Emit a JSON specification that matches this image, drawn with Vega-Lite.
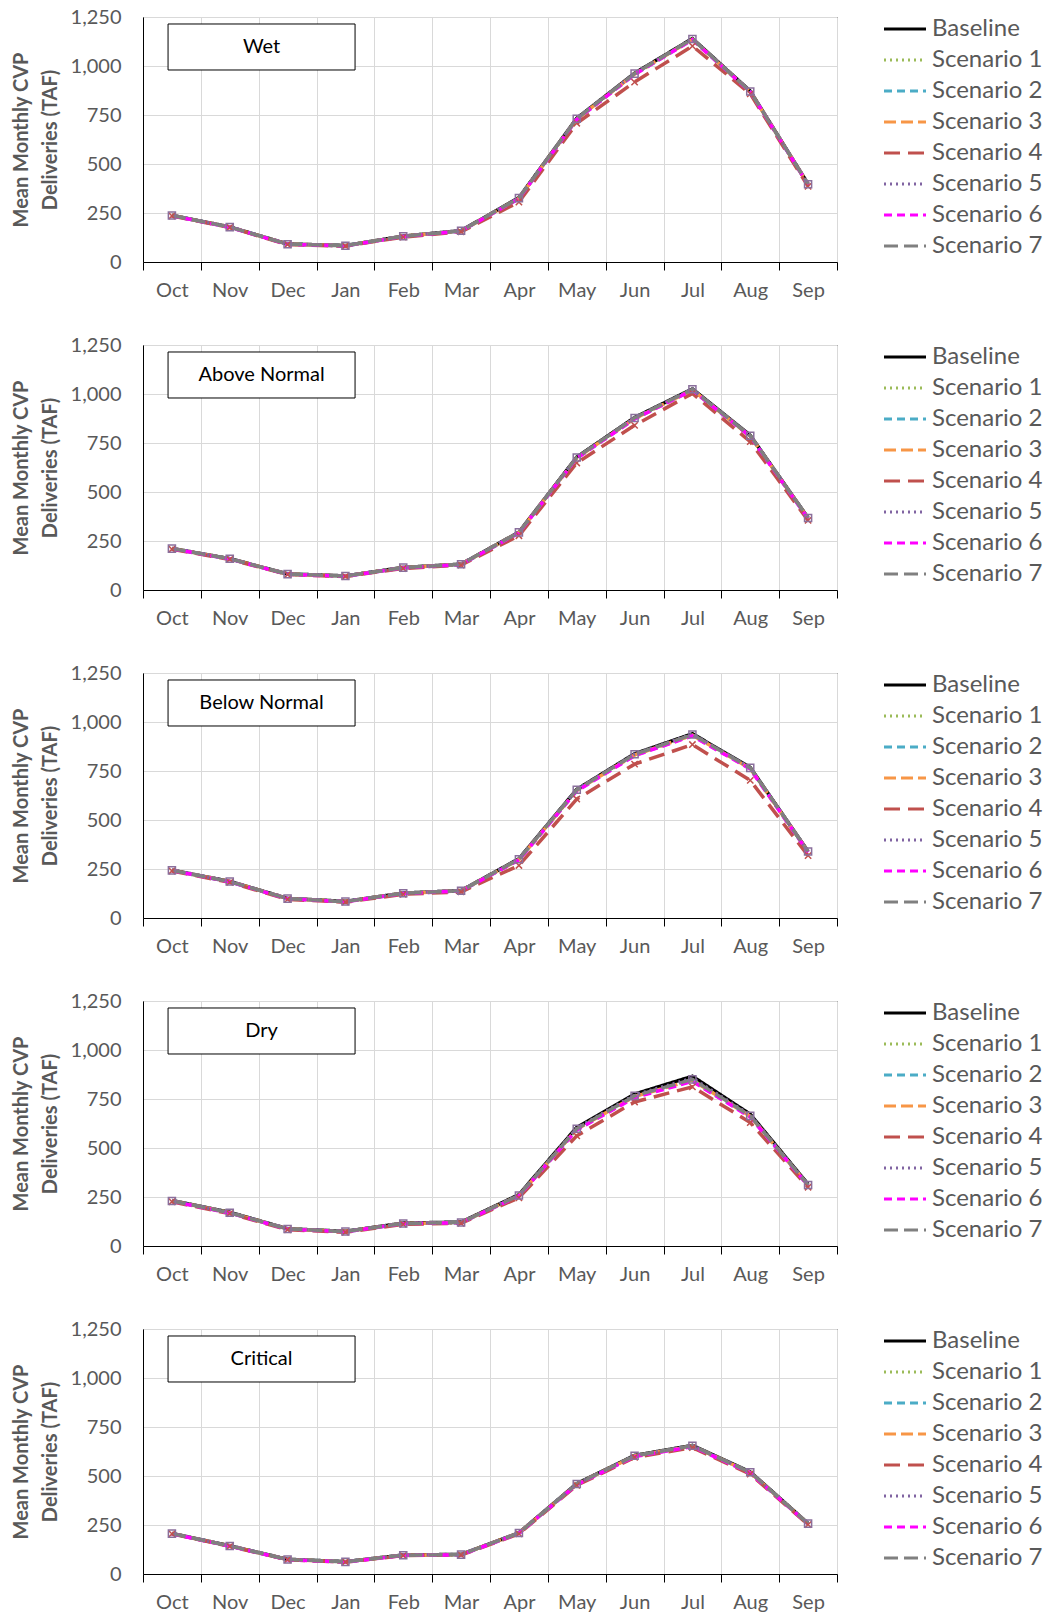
{
"$schema": "https://vega.github.io/schema/vega-lite/v6.json",
"background": "white",
"padding": {"left": 10, "top": 6, "right": 200, "bottom": 5},
"bounds": "flush",
"spacing": 83,
"config": {
  "font": "Lato",
  "view": {"stroke": "#000000", "strokeWidth": 1},
  "axis": {"labelFont": "Lato", "labelFontSize": 20, "labelColor": "#595959", "gridColor": "#d9d9d9", "gridWidth": 1, "domainColor": "#000000", "domainWidth": 1, "tickColor": "#000000"},
  "legend": {"title": null, "orient": "right", "offset": 56, "padding": 0, "symbolType": "M-2,0H2", "symbolSize": 441, "symbolStrokeWidth": 3, "labelFontSize": 24, "labelFont": "Lato", "labelColor": "#595959", "labelOffset": 15, "rowPadding": 7, "symbolOpacity": 1}
},
"datasets": {"d": [
{"p":"Wet","s":"Baseline","m":"Oct","v":238},{"p":"Wet","s":"Baseline","m":"Nov","v":179},{"p":"Wet","s":"Baseline","m":"Dec","v":92},{"p":"Wet","s":"Baseline","m":"Jan","v":84},{"p":"Wet","s":"Baseline","m":"Feb","v":132},{"p":"Wet","s":"Baseline","m":"Mar","v":160},{"p":"Wet","s":"Baseline","m":"Apr","v":328},{"p":"Wet","s":"Baseline","m":"May","v":733},{"p":"Wet","s":"Baseline","m":"Jun","v":963},{"p":"Wet","s":"Baseline","m":"Jul","v":1140},{"p":"Wet","s":"Baseline","m":"Aug","v":872},{"p":"Wet","s":"Baseline","m":"Sep","v":398},
{"p":"Wet","s":"Scenario 1","m":"Oct","v":237},{"p":"Wet","s":"Scenario 1","m":"Nov","v":178},{"p":"Wet","s":"Scenario 1","m":"Dec","v":91},{"p":"Wet","s":"Scenario 1","m":"Jan","v":83},{"p":"Wet","s":"Scenario 1","m":"Feb","v":131},{"p":"Wet","s":"Scenario 1","m":"Mar","v":159},{"p":"Wet","s":"Scenario 1","m":"Apr","v":326},{"p":"Wet","s":"Scenario 1","m":"May","v":730},{"p":"Wet","s":"Scenario 1","m":"Jun","v":960},{"p":"Wet","s":"Scenario 1","m":"Jul","v":1137},{"p":"Wet","s":"Scenario 1","m":"Aug","v":870},{"p":"Wet","s":"Scenario 1","m":"Sep","v":396},
{"p":"Wet","s":"Scenario 2","m":"Oct","v":236},{"p":"Wet","s":"Scenario 2","m":"Nov","v":178},{"p":"Wet","s":"Scenario 2","m":"Dec","v":91},{"p":"Wet","s":"Scenario 2","m":"Jan","v":83},{"p":"Wet","s":"Scenario 2","m":"Feb","v":130},{"p":"Wet","s":"Scenario 2","m":"Mar","v":158},{"p":"Wet","s":"Scenario 2","m":"Apr","v":324},{"p":"Wet","s":"Scenario 2","m":"May","v":728},{"p":"Wet","s":"Scenario 2","m":"Jun","v":958},{"p":"Wet","s":"Scenario 2","m":"Jul","v":1135},{"p":"Wet","s":"Scenario 2","m":"Aug","v":869},{"p":"Wet","s":"Scenario 2","m":"Sep","v":395},
{"p":"Wet","s":"Scenario 3","m":"Oct","v":237},{"p":"Wet","s":"Scenario 3","m":"Nov","v":178},{"p":"Wet","s":"Scenario 3","m":"Dec","v":91},{"p":"Wet","s":"Scenario 3","m":"Jan","v":83},{"p":"Wet","s":"Scenario 3","m":"Feb","v":131},{"p":"Wet","s":"Scenario 3","m":"Mar","v":158},{"p":"Wet","s":"Scenario 3","m":"Apr","v":325},{"p":"Wet","s":"Scenario 3","m":"May","v":729},{"p":"Wet","s":"Scenario 3","m":"Jun","v":959},{"p":"Wet","s":"Scenario 3","m":"Jul","v":1136},{"p":"Wet","s":"Scenario 3","m":"Aug","v":869},{"p":"Wet","s":"Scenario 3","m":"Sep","v":396},
{"p":"Wet","s":"Scenario 4","m":"Oct","v":235},{"p":"Wet","s":"Scenario 4","m":"Nov","v":176},{"p":"Wet","s":"Scenario 4","m":"Dec","v":89},{"p":"Wet","s":"Scenario 4","m":"Jan","v":81},{"p":"Wet","s":"Scenario 4","m":"Feb","v":127},{"p":"Wet","s":"Scenario 4","m":"Mar","v":154},{"p":"Wet","s":"Scenario 4","m":"Apr","v":306},{"p":"Wet","s":"Scenario 4","m":"May","v":708},{"p":"Wet","s":"Scenario 4","m":"Jun","v":918},{"p":"Wet","s":"Scenario 4","m":"Jul","v":1102},{"p":"Wet","s":"Scenario 4","m":"Aug","v":858},{"p":"Wet","s":"Scenario 4","m":"Sep","v":386},
{"p":"Wet","s":"Scenario 5","m":"Oct","v":238},{"p":"Wet","s":"Scenario 5","m":"Nov","v":179},{"p":"Wet","s":"Scenario 5","m":"Dec","v":92},{"p":"Wet","s":"Scenario 5","m":"Jan","v":84},{"p":"Wet","s":"Scenario 5","m":"Feb","v":132},{"p":"Wet","s":"Scenario 5","m":"Mar","v":160},{"p":"Wet","s":"Scenario 5","m":"Apr","v":327},{"p":"Wet","s":"Scenario 5","m":"May","v":732},{"p":"Wet","s":"Scenario 5","m":"Jun","v":962},{"p":"Wet","s":"Scenario 5","m":"Jul","v":1139},{"p":"Wet","s":"Scenario 5","m":"Aug","v":871},{"p":"Wet","s":"Scenario 5","m":"Sep","v":397},
{"p":"Wet","s":"Scenario 6","m":"Oct","v":236},{"p":"Wet","s":"Scenario 6","m":"Nov","v":177},{"p":"Wet","s":"Scenario 6","m":"Dec","v":90},{"p":"Wet","s":"Scenario 6","m":"Jan","v":82},{"p":"Wet","s":"Scenario 6","m":"Feb","v":130},{"p":"Wet","s":"Scenario 6","m":"Mar","v":158},{"p":"Wet","s":"Scenario 6","m":"Apr","v":323},{"p":"Wet","s":"Scenario 6","m":"May","v":727},{"p":"Wet","s":"Scenario 6","m":"Jun","v":957},{"p":"Wet","s":"Scenario 6","m":"Jul","v":1134},{"p":"Wet","s":"Scenario 6","m":"Aug","v":868},{"p":"Wet","s":"Scenario 6","m":"Sep","v":395},
{"p":"Wet","s":"Scenario 7","m":"Oct","v":237},{"p":"Wet","s":"Scenario 7","m":"Nov","v":178},{"p":"Wet","s":"Scenario 7","m":"Dec","v":91},{"p":"Wet","s":"Scenario 7","m":"Jan","v":83},{"p":"Wet","s":"Scenario 7","m":"Feb","v":131},{"p":"Wet","s":"Scenario 7","m":"Mar","v":159},{"p":"Wet","s":"Scenario 7","m":"Apr","v":326},{"p":"Wet","s":"Scenario 7","m":"May","v":731},{"p":"Wet","s":"Scenario 7","m":"Jun","v":961},{"p":"Wet","s":"Scenario 7","m":"Jul","v":1138},{"p":"Wet","s":"Scenario 7","m":"Aug","v":870},{"p":"Wet","s":"Scenario 7","m":"Sep","v":397},

{"p":"Above Normal","s":"Baseline","m":"Oct","v":212},{"p":"Above Normal","s":"Baseline","m":"Nov","v":160},{"p":"Above Normal","s":"Baseline","m":"Dec","v":82},{"p":"Above Normal","s":"Baseline","m":"Jan","v":72},{"p":"Above Normal","s":"Baseline","m":"Feb","v":115},{"p":"Above Normal","s":"Baseline","m":"Mar","v":132},{"p":"Above Normal","s":"Baseline","m":"Apr","v":295},{"p":"Above Normal","s":"Baseline","m":"May","v":678},{"p":"Above Normal","s":"Baseline","m":"Jun","v":880},{"p":"Above Normal","s":"Baseline","m":"Jul","v":1026},{"p":"Above Normal","s":"Baseline","m":"Aug","v":789},{"p":"Above Normal","s":"Baseline","m":"Sep","v":368},
{"p":"Above Normal","s":"Scenario 1","m":"Oct","v":211},{"p":"Above Normal","s":"Scenario 1","m":"Nov","v":159},{"p":"Above Normal","s":"Scenario 1","m":"Dec","v":81},{"p":"Above Normal","s":"Scenario 1","m":"Jan","v":71},{"p":"Above Normal","s":"Scenario 1","m":"Feb","v":114},{"p":"Above Normal","s":"Scenario 1","m":"Mar","v":131},{"p":"Above Normal","s":"Scenario 1","m":"Apr","v":293},{"p":"Above Normal","s":"Scenario 1","m":"May","v":675},{"p":"Above Normal","s":"Scenario 1","m":"Jun","v":876},{"p":"Above Normal","s":"Scenario 1","m":"Jul","v":1022},{"p":"Above Normal","s":"Scenario 1","m":"Aug","v":786},{"p":"Above Normal","s":"Scenario 1","m":"Sep","v":366},
{"p":"Above Normal","s":"Scenario 2","m":"Oct","v":210},{"p":"Above Normal","s":"Scenario 2","m":"Nov","v":158},{"p":"Above Normal","s":"Scenario 2","m":"Dec","v":81},{"p":"Above Normal","s":"Scenario 2","m":"Jan","v":71},{"p":"Above Normal","s":"Scenario 2","m":"Feb","v":113},{"p":"Above Normal","s":"Scenario 2","m":"Mar","v":130},{"p":"Above Normal","s":"Scenario 2","m":"Apr","v":292},{"p":"Above Normal","s":"Scenario 2","m":"May","v":673},{"p":"Above Normal","s":"Scenario 2","m":"Jun","v":874},{"p":"Above Normal","s":"Scenario 2","m":"Jul","v":1020},{"p":"Above Normal","s":"Scenario 2","m":"Aug","v":784},{"p":"Above Normal","s":"Scenario 2","m":"Sep","v":365},
{"p":"Above Normal","s":"Scenario 3","m":"Oct","v":211},{"p":"Above Normal","s":"Scenario 3","m":"Nov","v":159},{"p":"Above Normal","s":"Scenario 3","m":"Dec","v":81},{"p":"Above Normal","s":"Scenario 3","m":"Jan","v":71},{"p":"Above Normal","s":"Scenario 3","m":"Feb","v":114},{"p":"Above Normal","s":"Scenario 3","m":"Mar","v":131},{"p":"Above Normal","s":"Scenario 3","m":"Apr","v":293},{"p":"Above Normal","s":"Scenario 3","m":"May","v":674},{"p":"Above Normal","s":"Scenario 3","m":"Jun","v":875},{"p":"Above Normal","s":"Scenario 3","m":"Jul","v":1021},{"p":"Above Normal","s":"Scenario 3","m":"Aug","v":785},{"p":"Above Normal","s":"Scenario 3","m":"Sep","v":366},
{"p":"Above Normal","s":"Scenario 4","m":"Oct","v":208},{"p":"Above Normal","s":"Scenario 4","m":"Nov","v":156},{"p":"Above Normal","s":"Scenario 4","m":"Dec","v":79},{"p":"Above Normal","s":"Scenario 4","m":"Jan","v":69},{"p":"Above Normal","s":"Scenario 4","m":"Feb","v":110},{"p":"Above Normal","s":"Scenario 4","m":"Mar","v":127},{"p":"Above Normal","s":"Scenario 4","m":"Apr","v":277},{"p":"Above Normal","s":"Scenario 4","m":"May","v":648},{"p":"Above Normal","s":"Scenario 4","m":"Jun","v":840},{"p":"Above Normal","s":"Scenario 4","m":"Jul","v":1003},{"p":"Above Normal","s":"Scenario 4","m":"Aug","v":757},{"p":"Above Normal","s":"Scenario 4","m":"Sep","v":355},
{"p":"Above Normal","s":"Scenario 5","m":"Oct","v":212},{"p":"Above Normal","s":"Scenario 5","m":"Nov","v":160},{"p":"Above Normal","s":"Scenario 5","m":"Dec","v":82},{"p":"Above Normal","s":"Scenario 5","m":"Jan","v":72},{"p":"Above Normal","s":"Scenario 5","m":"Feb","v":115},{"p":"Above Normal","s":"Scenario 5","m":"Mar","v":132},{"p":"Above Normal","s":"Scenario 5","m":"Apr","v":294},{"p":"Above Normal","s":"Scenario 5","m":"May","v":677},{"p":"Above Normal","s":"Scenario 5","m":"Jun","v":879},{"p":"Above Normal","s":"Scenario 5","m":"Jul","v":1025},{"p":"Above Normal","s":"Scenario 5","m":"Aug","v":788},{"p":"Above Normal","s":"Scenario 5","m":"Sep","v":367},
{"p":"Above Normal","s":"Scenario 6","m":"Oct","v":210},{"p":"Above Normal","s":"Scenario 6","m":"Nov","v":158},{"p":"Above Normal","s":"Scenario 6","m":"Dec","v":80},{"p":"Above Normal","s":"Scenario 6","m":"Jan","v":70},{"p":"Above Normal","s":"Scenario 6","m":"Feb","v":113},{"p":"Above Normal","s":"Scenario 6","m":"Mar","v":130},{"p":"Above Normal","s":"Scenario 6","m":"Apr","v":291},{"p":"Above Normal","s":"Scenario 6","m":"May","v":672},{"p":"Above Normal","s":"Scenario 6","m":"Jun","v":873},{"p":"Above Normal","s":"Scenario 6","m":"Jul","v":1019},{"p":"Above Normal","s":"Scenario 6","m":"Aug","v":783},{"p":"Above Normal","s":"Scenario 6","m":"Sep","v":364},
{"p":"Above Normal","s":"Scenario 7","m":"Oct","v":211},{"p":"Above Normal","s":"Scenario 7","m":"Nov","v":159},{"p":"Above Normal","s":"Scenario 7","m":"Dec","v":81},{"p":"Above Normal","s":"Scenario 7","m":"Jan","v":71},{"p":"Above Normal","s":"Scenario 7","m":"Feb","v":114},{"p":"Above Normal","s":"Scenario 7","m":"Mar","v":131},{"p":"Above Normal","s":"Scenario 7","m":"Apr","v":294},{"p":"Above Normal","s":"Scenario 7","m":"May","v":676},{"p":"Above Normal","s":"Scenario 7","m":"Jun","v":878},{"p":"Above Normal","s":"Scenario 7","m":"Jul","v":1024},{"p":"Above Normal","s":"Scenario 7","m":"Aug","v":787},{"p":"Above Normal","s":"Scenario 7","m":"Sep","v":367},

{"p":"Below Normal","s":"Baseline","m":"Oct","v":244},{"p":"Below Normal","s":"Baseline","m":"Nov","v":187},{"p":"Below Normal","s":"Baseline","m":"Dec","v":100},{"p":"Below Normal","s":"Baseline","m":"Jan","v":85},{"p":"Below Normal","s":"Baseline","m":"Feb","v":127},{"p":"Below Normal","s":"Baseline","m":"Mar","v":140},{"p":"Below Normal","s":"Baseline","m":"Apr","v":302},{"p":"Below Normal","s":"Baseline","m":"May","v":656},{"p":"Below Normal","s":"Baseline","m":"Jun","v":838},{"p":"Below Normal","s":"Baseline","m":"Jul","v":940},{"p":"Below Normal","s":"Baseline","m":"Aug","v":768},{"p":"Below Normal","s":"Baseline","m":"Sep","v":340},
{"p":"Below Normal","s":"Scenario 1","m":"Oct","v":243},{"p":"Below Normal","s":"Scenario 1","m":"Nov","v":186},{"p":"Below Normal","s":"Scenario 1","m":"Dec","v":99},{"p":"Below Normal","s":"Scenario 1","m":"Jan","v":84},{"p":"Below Normal","s":"Scenario 1","m":"Feb","v":126},{"p":"Below Normal","s":"Scenario 1","m":"Mar","v":139},{"p":"Below Normal","s":"Scenario 1","m":"Apr","v":299},{"p":"Below Normal","s":"Scenario 1","m":"May","v":652},{"p":"Below Normal","s":"Scenario 1","m":"Jun","v":833},{"p":"Below Normal","s":"Scenario 1","m":"Jul","v":934},{"p":"Below Normal","s":"Scenario 1","m":"Aug","v":764},{"p":"Below Normal","s":"Scenario 1","m":"Sep","v":338},
{"p":"Below Normal","s":"Scenario 2","m":"Oct","v":242},{"p":"Below Normal","s":"Scenario 2","m":"Nov","v":185},{"p":"Below Normal","s":"Scenario 2","m":"Dec","v":98},{"p":"Below Normal","s":"Scenario 2","m":"Jan","v":84},{"p":"Below Normal","s":"Scenario 2","m":"Feb","v":125},{"p":"Below Normal","s":"Scenario 2","m":"Mar","v":138},{"p":"Below Normal","s":"Scenario 2","m":"Apr","v":297},{"p":"Below Normal","s":"Scenario 2","m":"May","v":650},{"p":"Below Normal","s":"Scenario 2","m":"Jun","v":830},{"p":"Below Normal","s":"Scenario 2","m":"Jul","v":931},{"p":"Below Normal","s":"Scenario 2","m":"Aug","v":762},{"p":"Below Normal","s":"Scenario 2","m":"Sep","v":337},
{"p":"Below Normal","s":"Scenario 3","m":"Oct","v":243},{"p":"Below Normal","s":"Scenario 3","m":"Nov","v":186},{"p":"Below Normal","s":"Scenario 3","m":"Dec","v":99},{"p":"Below Normal","s":"Scenario 3","m":"Jan","v":84},{"p":"Below Normal","s":"Scenario 3","m":"Feb","v":126},{"p":"Below Normal","s":"Scenario 3","m":"Mar","v":139},{"p":"Below Normal","s":"Scenario 3","m":"Apr","v":298},{"p":"Below Normal","s":"Scenario 3","m":"May","v":651},{"p":"Below Normal","s":"Scenario 3","m":"Jun","v":832},{"p":"Below Normal","s":"Scenario 3","m":"Jul","v":933},{"p":"Below Normal","s":"Scenario 3","m":"Aug","v":763},{"p":"Below Normal","s":"Scenario 3","m":"Sep","v":338},
{"p":"Below Normal","s":"Scenario 4","m":"Oct","v":240},{"p":"Below Normal","s":"Scenario 4","m":"Nov","v":182},{"p":"Below Normal","s":"Scenario 4","m":"Dec","v":95},{"p":"Below Normal","s":"Scenario 4","m":"Jan","v":81},{"p":"Below Normal","s":"Scenario 4","m":"Feb","v":121},{"p":"Below Normal","s":"Scenario 4","m":"Mar","v":133},{"p":"Below Normal","s":"Scenario 4","m":"Apr","v":268},{"p":"Below Normal","s":"Scenario 4","m":"May","v":607},{"p":"Below Normal","s":"Scenario 4","m":"Jun","v":785},{"p":"Below Normal","s":"Scenario 4","m":"Jul","v":885},{"p":"Below Normal","s":"Scenario 4","m":"Aug","v":702},{"p":"Below Normal","s":"Scenario 4","m":"Sep","v":318},
{"p":"Below Normal","s":"Scenario 5","m":"Oct","v":244},{"p":"Below Normal","s":"Scenario 5","m":"Nov","v":187},{"p":"Below Normal","s":"Scenario 5","m":"Dec","v":100},{"p":"Below Normal","s":"Scenario 5","m":"Jan","v":85},{"p":"Below Normal","s":"Scenario 5","m":"Feb","v":127},{"p":"Below Normal","s":"Scenario 5","m":"Mar","v":140},{"p":"Below Normal","s":"Scenario 5","m":"Apr","v":301},{"p":"Below Normal","s":"Scenario 5","m":"May","v":655},{"p":"Below Normal","s":"Scenario 5","m":"Jun","v":837},{"p":"Below Normal","s":"Scenario 5","m":"Jul","v":938},{"p":"Below Normal","s":"Scenario 5","m":"Aug","v":767},{"p":"Below Normal","s":"Scenario 5","m":"Sep","v":339},
{"p":"Below Normal","s":"Scenario 6","m":"Oct","v":242},{"p":"Below Normal","s":"Scenario 6","m":"Nov","v":185},{"p":"Below Normal","s":"Scenario 6","m":"Dec","v":98},{"p":"Below Normal","s":"Scenario 6","m":"Jan","v":83},{"p":"Below Normal","s":"Scenario 6","m":"Feb","v":125},{"p":"Below Normal","s":"Scenario 6","m":"Mar","v":138},{"p":"Below Normal","s":"Scenario 6","m":"Apr","v":296},{"p":"Below Normal","s":"Scenario 6","m":"May","v":648},{"p":"Below Normal","s":"Scenario 6","m":"Jun","v":828},{"p":"Below Normal","s":"Scenario 6","m":"Jul","v":929},{"p":"Below Normal","s":"Scenario 6","m":"Aug","v":760},{"p":"Below Normal","s":"Scenario 6","m":"Sep","v":336},
{"p":"Below Normal","s":"Scenario 7","m":"Oct","v":243},{"p":"Below Normal","s":"Scenario 7","m":"Nov","v":186},{"p":"Below Normal","s":"Scenario 7","m":"Dec","v":99},{"p":"Below Normal","s":"Scenario 7","m":"Jan","v":84},{"p":"Below Normal","s":"Scenario 7","m":"Feb","v":126},{"p":"Below Normal","s":"Scenario 7","m":"Mar","v":139},{"p":"Below Normal","s":"Scenario 7","m":"Apr","v":300},{"p":"Below Normal","s":"Scenario 7","m":"May","v":654},{"p":"Below Normal","s":"Scenario 7","m":"Jun","v":835},{"p":"Below Normal","s":"Scenario 7","m":"Jul","v":936},{"p":"Below Normal","s":"Scenario 7","m":"Aug","v":766},{"p":"Below Normal","s":"Scenario 7","m":"Sep","v":339},

{"p":"Dry","s":"Baseline","m":"Oct","v":232},{"p":"Dry","s":"Baseline","m":"Nov","v":172},{"p":"Dry","s":"Baseline","m":"Dec","v":88},{"p":"Dry","s":"Baseline","m":"Jan","v":75},{"p":"Dry","s":"Baseline","m":"Feb","v":117},{"p":"Dry","s":"Baseline","m":"Mar","v":122},{"p":"Dry","s":"Baseline","m":"Apr","v":262},{"p":"Dry","s":"Baseline","m":"May","v":605},{"p":"Dry","s":"Baseline","m":"Jun","v":775},{"p":"Dry","s":"Baseline","m":"Jul","v":866},{"p":"Dry","s":"Baseline","m":"Aug","v":672},{"p":"Dry","s":"Baseline","m":"Sep","v":315},
{"p":"Dry","s":"Scenario 1","m":"Oct","v":230},{"p":"Dry","s":"Scenario 1","m":"Nov","v":170},{"p":"Dry","s":"Scenario 1","m":"Dec","v":87},{"p":"Dry","s":"Scenario 1","m":"Jan","v":74},{"p":"Dry","s":"Scenario 1","m":"Feb","v":115},{"p":"Dry","s":"Scenario 1","m":"Mar","v":120},{"p":"Dry","s":"Scenario 1","m":"Apr","v":258},{"p":"Dry","s":"Scenario 1","m":"May","v":597},{"p":"Dry","s":"Scenario 1","m":"Jun","v":765},{"p":"Dry","s":"Scenario 1","m":"Jul","v":848},{"p":"Dry","s":"Scenario 1","m":"Aug","v":663},{"p":"Dry","s":"Scenario 1","m":"Sep","v":311},
{"p":"Dry","s":"Scenario 2","m":"Oct","v":229},{"p":"Dry","s":"Scenario 2","m":"Nov","v":169},{"p":"Dry","s":"Scenario 2","m":"Dec","v":86},{"p":"Dry","s":"Scenario 2","m":"Jan","v":73},{"p":"Dry","s":"Scenario 2","m":"Feb","v":114},{"p":"Dry","s":"Scenario 2","m":"Mar","v":119},{"p":"Dry","s":"Scenario 2","m":"Apr","v":256},{"p":"Dry","s":"Scenario 2","m":"May","v":594},{"p":"Dry","s":"Scenario 2","m":"Jun","v":760},{"p":"Dry","s":"Scenario 2","m":"Jul","v":843},{"p":"Dry","s":"Scenario 2","m":"Aug","v":660},{"p":"Dry","s":"Scenario 2","m":"Sep","v":309},
{"p":"Dry","s":"Scenario 3","m":"Oct","v":230},{"p":"Dry","s":"Scenario 3","m":"Nov","v":170},{"p":"Dry","s":"Scenario 3","m":"Dec","v":87},{"p":"Dry","s":"Scenario 3","m":"Jan","v":74},{"p":"Dry","s":"Scenario 3","m":"Feb","v":115},{"p":"Dry","s":"Scenario 3","m":"Mar","v":120},{"p":"Dry","s":"Scenario 3","m":"Apr","v":257},{"p":"Dry","s":"Scenario 3","m":"May","v":596},{"p":"Dry","s":"Scenario 3","m":"Jun","v":763},{"p":"Dry","s":"Scenario 3","m":"Jul","v":846},{"p":"Dry","s":"Scenario 3","m":"Aug","v":662},{"p":"Dry","s":"Scenario 3","m":"Sep","v":310},
{"p":"Dry","s":"Scenario 4","m":"Oct","v":226},{"p":"Dry","s":"Scenario 4","m":"Nov","v":165},{"p":"Dry","s":"Scenario 4","m":"Dec","v":83},{"p":"Dry","s":"Scenario 4","m":"Jan","v":70},{"p":"Dry","s":"Scenario 4","m":"Feb","v":111},{"p":"Dry","s":"Scenario 4","m":"Mar","v":116},{"p":"Dry","s":"Scenario 4","m":"Apr","v":246},{"p":"Dry","s":"Scenario 4","m":"May","v":562},{"p":"Dry","s":"Scenario 4","m":"Jun","v":735},{"p":"Dry","s":"Scenario 4","m":"Jul","v":812},{"p":"Dry","s":"Scenario 4","m":"Aug","v":630},{"p":"Dry","s":"Scenario 4","m":"Sep","v":300},
{"p":"Dry","s":"Scenario 5","m":"Oct","v":231},{"p":"Dry","s":"Scenario 5","m":"Nov","v":171},{"p":"Dry","s":"Scenario 5","m":"Dec","v":88},{"p":"Dry","s":"Scenario 5","m":"Jan","v":75},{"p":"Dry","s":"Scenario 5","m":"Feb","v":116},{"p":"Dry","s":"Scenario 5","m":"Mar","v":121},{"p":"Dry","s":"Scenario 5","m":"Apr","v":260},{"p":"Dry","s":"Scenario 5","m":"May","v":601},{"p":"Dry","s":"Scenario 5","m":"Jun","v":770},{"p":"Dry","s":"Scenario 5","m":"Jul","v":856},{"p":"Dry","s":"Scenario 5","m":"Aug","v":668},{"p":"Dry","s":"Scenario 5","m":"Sep","v":313},
{"p":"Dry","s":"Scenario 6","m":"Oct","v":228},{"p":"Dry","s":"Scenario 6","m":"Nov","v":168},{"p":"Dry","s":"Scenario 6","m":"Dec","v":86},{"p":"Dry","s":"Scenario 6","m":"Jan","v":73},{"p":"Dry","s":"Scenario 6","m":"Feb","v":114},{"p":"Dry","s":"Scenario 6","m":"Mar","v":119},{"p":"Dry","s":"Scenario 6","m":"Apr","v":255},{"p":"Dry","s":"Scenario 6","m":"May","v":592},{"p":"Dry","s":"Scenario 6","m":"Jun","v":757},{"p":"Dry","s":"Scenario 6","m":"Jul","v":840},{"p":"Dry","s":"Scenario 6","m":"Aug","v":658},{"p":"Dry","s":"Scenario 6","m":"Sep","v":308},
{"p":"Dry","s":"Scenario 7","m":"Oct","v":230},{"p":"Dry","s":"Scenario 7","m":"Nov","v":170},{"p":"Dry","s":"Scenario 7","m":"Dec","v":87},{"p":"Dry","s":"Scenario 7","m":"Jan","v":74},{"p":"Dry","s":"Scenario 7","m":"Feb","v":115},{"p":"Dry","s":"Scenario 7","m":"Mar","v":120},{"p":"Dry","s":"Scenario 7","m":"Apr","v":258},{"p":"Dry","s":"Scenario 7","m":"May","v":598},{"p":"Dry","s":"Scenario 7","m":"Jun","v":766},{"p":"Dry","s":"Scenario 7","m":"Jul","v":850},{"p":"Dry","s":"Scenario 7","m":"Aug","v":664},{"p":"Dry","s":"Scenario 7","m":"Sep","v":311},

{"p":"Critical","s":"Baseline","m":"Oct","v":207},{"p":"Critical","s":"Baseline","m":"Nov","v":144},{"p":"Critical","s":"Baseline","m":"Dec","v":75},{"p":"Critical","s":"Baseline","m":"Jan","v":63},{"p":"Critical","s":"Baseline","m":"Feb","v":97},{"p":"Critical","s":"Baseline","m":"Mar","v":100},{"p":"Critical","s":"Baseline","m":"Apr","v":210},{"p":"Critical","s":"Baseline","m":"May","v":461},{"p":"Critical","s":"Baseline","m":"Jun","v":605},{"p":"Critical","s":"Baseline","m":"Jul","v":656},{"p":"Critical","s":"Baseline","m":"Aug","v":521},{"p":"Critical","s":"Baseline","m":"Sep","v":258},
{"p":"Critical","s":"Scenario 1","m":"Oct","v":206},{"p":"Critical","s":"Scenario 1","m":"Nov","v":143},{"p":"Critical","s":"Scenario 1","m":"Dec","v":74},{"p":"Critical","s":"Scenario 1","m":"Jan","v":62},{"p":"Critical","s":"Scenario 1","m":"Feb","v":96},{"p":"Critical","s":"Scenario 1","m":"Mar","v":99},{"p":"Critical","s":"Scenario 1","m":"Apr","v":209},{"p":"Critical","s":"Scenario 1","m":"May","v":459},{"p":"Critical","s":"Scenario 1","m":"Jun","v":602},{"p":"Critical","s":"Scenario 1","m":"Jul","v":653},{"p":"Critical","s":"Scenario 1","m":"Aug","v":518},{"p":"Critical","s":"Scenario 1","m":"Sep","v":256},
{"p":"Critical","s":"Scenario 2","m":"Oct","v":206},{"p":"Critical","s":"Scenario 2","m":"Nov","v":143},{"p":"Critical","s":"Scenario 2","m":"Dec","v":74},{"p":"Critical","s":"Scenario 2","m":"Jan","v":62},{"p":"Critical","s":"Scenario 2","m":"Feb","v":96},{"p":"Critical","s":"Scenario 2","m":"Mar","v":99},{"p":"Critical","s":"Scenario 2","m":"Apr","v":208},{"p":"Critical","s":"Scenario 2","m":"May","v":458},{"p":"Critical","s":"Scenario 2","m":"Jun","v":601},{"p":"Critical","s":"Scenario 2","m":"Jul","v":652},{"p":"Critical","s":"Scenario 2","m":"Aug","v":517},{"p":"Critical","s":"Scenario 2","m":"Sep","v":256},
{"p":"Critical","s":"Scenario 3","m":"Oct","v":206},{"p":"Critical","s":"Scenario 3","m":"Nov","v":143},{"p":"Critical","s":"Scenario 3","m":"Dec","v":74},{"p":"Critical","s":"Scenario 3","m":"Jan","v":62},{"p":"Critical","s":"Scenario 3","m":"Feb","v":96},{"p":"Critical","s":"Scenario 3","m":"Mar","v":99},{"p":"Critical","s":"Scenario 3","m":"Apr","v":209},{"p":"Critical","s":"Scenario 3","m":"May","v":459},{"p":"Critical","s":"Scenario 3","m":"Jun","v":602},{"p":"Critical","s":"Scenario 3","m":"Jul","v":653},{"p":"Critical","s":"Scenario 3","m":"Aug","v":518},{"p":"Critical","s":"Scenario 3","m":"Sep","v":256},
{"p":"Critical","s":"Scenario 4","m":"Oct","v":205},{"p":"Critical","s":"Scenario 4","m":"Nov","v":141},{"p":"Critical","s":"Scenario 4","m":"Dec","v":73},{"p":"Critical","s":"Scenario 4","m":"Jan","v":61},{"p":"Critical","s":"Scenario 4","m":"Feb","v":94},{"p":"Critical","s":"Scenario 4","m":"Mar","v":97},{"p":"Critical","s":"Scenario 4","m":"Apr","v":205},{"p":"Critical","s":"Scenario 4","m":"May","v":452},{"p":"Critical","s":"Scenario 4","m":"Jun","v":595},{"p":"Critical","s":"Scenario 4","m":"Jul","v":645},{"p":"Critical","s":"Scenario 4","m":"Aug","v":510},{"p":"Critical","s":"Scenario 4","m":"Sep","v":252},
{"p":"Critical","s":"Scenario 5","m":"Oct","v":207},{"p":"Critical","s":"Scenario 5","m":"Nov","v":144},{"p":"Critical","s":"Scenario 5","m":"Dec","v":75},{"p":"Critical","s":"Scenario 5","m":"Jan","v":63},{"p":"Critical","s":"Scenario 5","m":"Feb","v":97},{"p":"Critical","s":"Scenario 5","m":"Mar","v":100},{"p":"Critical","s":"Scenario 5","m":"Apr","v":210},{"p":"Critical","s":"Scenario 5","m":"May","v":460},{"p":"Critical","s":"Scenario 5","m":"Jun","v":604},{"p":"Critical","s":"Scenario 5","m":"Jul","v":655},{"p":"Critical","s":"Scenario 5","m":"Aug","v":520},{"p":"Critical","s":"Scenario 5","m":"Sep","v":257},
{"p":"Critical","s":"Scenario 6","m":"Oct","v":205},{"p":"Critical","s":"Scenario 6","m":"Nov","v":142},{"p":"Critical","s":"Scenario 6","m":"Dec","v":73},{"p":"Critical","s":"Scenario 6","m":"Jan","v":61},{"p":"Critical","s":"Scenario 6","m":"Feb","v":95},{"p":"Critical","s":"Scenario 6","m":"Mar","v":98},{"p":"Critical","s":"Scenario 6","m":"Apr","v":207},{"p":"Critical","s":"Scenario 6","m":"May","v":456},{"p":"Critical","s":"Scenario 6","m":"Jun","v":599},{"p":"Critical","s":"Scenario 6","m":"Jul","v":650},{"p":"Critical","s":"Scenario 6","m":"Aug","v":515},{"p":"Critical","s":"Scenario 6","m":"Sep","v":255},
{"p":"Critical","s":"Scenario 7","m":"Oct","v":206},{"p":"Critical","s":"Scenario 7","m":"Nov","v":143},{"p":"Critical","s":"Scenario 7","m":"Dec","v":74},{"p":"Critical","s":"Scenario 7","m":"Jan","v":62},{"p":"Critical","s":"Scenario 7","m":"Feb","v":96},{"p":"Critical","s":"Scenario 7","m":"Mar","v":99},{"p":"Critical","s":"Scenario 7","m":"Apr","v":209},{"p":"Critical","s":"Scenario 7","m":"May","v":459},{"p":"Critical","s":"Scenario 7","m":"Jun","v":603},{"p":"Critical","s":"Scenario 7","m":"Jul","v":654},{"p":"Critical","s":"Scenario 7","m":"Aug","v":519},{"p":"Critical","s":"Scenario 7","m":"Sep","v":257}
],
"labels": [{"p":"Wet"},{"p":"Above Normal"},{"p":"Below Normal"},{"p":"Dry"},{"p":"Critical"}]
},
"vconcat": [
{"width": 694, "height": 245,
 "layer": [
  {"data": {"name": "d"}, "transform": [{"filter": "datum.p === 'Wet'"}], "mark": {"type": "line", "strokeWidth": 3.5},
   "encoding": {
    "x": {"field": "m", "type": "ordinal", "sort": null, "scale": {"type": "band", "domain": ["Oct","Nov","Dec","Jan","Feb","Mar","Apr","May","Jun","Jul","Aug","Sep"], "paddingInner": 0, "paddingOuter": 0}, "axis": {"title": null, "tickBand": "extent", "tickSize": 8, "labelAngle": 0, "labelPadding": 10, "grid": true}},
    "y": {"field": "v", "type": "quantitative", "scale": {"domain": [0, 1250], "nice": false}, "axis": {"title": ["Mean Monthly CVP", "Deliveries (TAF)"], "values": [0,250,500,750,1000,1250], "format": ",.0f", "tickSize": 0, "labelPadding": 22, "titleFontSize": 20, "titleFontWeight": "bold", "titleColor": "#595959", "titlePadding": 10, "titleLineHeight": 29, "grid": true}},
    "color": {"field": "s", "type": "nominal", "scale": {"domain": ["Baseline","Scenario 1","Scenario 2","Scenario 3","Scenario 4","Scenario 5","Scenario 6","Scenario 7"], "range": ["#000000","#9BBB59","#4BACC6","#F79646","#C0504D","#8064A2","#FF00FF","#808080"]}},
    "strokeDash": {"field": "s", "type": "nominal", "scale": {"domain": ["Baseline","Scenario 1","Scenario 2","Scenario 3","Scenario 4","Scenario 5","Scenario 6","Scenario 7"], "range": [[1,0],[2,4],[8,5],[12,5],[16,8],[2,4],[8,5],[14,6]]}}
   }},
  {"data": {"name": "d"}, "transform": [{"filter": "datum.p === 'Wet' && datum.s === 'Scenario 4'"}], "mark": {"type": "point", "shape": "M-1,-1L1,1M-1,1L1,-1", "filled": false, "size": 40, "strokeWidth": 1.5, "color": "#C0504D", "opacity": 1},
   "encoding": {"x": {"field": "m", "type": "ordinal", "sort": null}, "y": {"field": "v", "type": "quantitative"}}},
  {"data": {"name": "d"}, "transform": [{"filter": "datum.p === 'Wet' && datum.s === 'Scenario 7'"}], "mark": {"type": "point", "shape": "square", "filled": false, "size": 50, "strokeWidth": 1.5, "color": "#8a6f9c", "opacity": 1},
   "encoding": {"x": {"field": "m", "type": "ordinal", "sort": null}, "y": {"field": "v", "type": "quantitative"}}},
  {"data": {"name": "labels"}, "transform": [{"filter": "datum.p === 'Wet'"}], "mark": {"type": "point", "shape": "M-1,-0.246H1V0.246H-1Z", "size": 34969, "filled": true, "fill": "white", "stroke": "black", "strokeWidth": 1, "opacity": 1},
   "encoding": {"x": {"datum": "Dec", "type": "ordinal", "bandPosition": 0.05}, "y": {"datum": 1097, "type": "quantitative"}}},
  {"data": {"name": "labels"}, "transform": [{"filter": "datum.p === 'Wet'"}], "mark": {"type": "text", "fontSize": 20, "font": "Lato", "color": "black"},
   "encoding": {"x": {"datum": "Dec", "type": "ordinal", "bandPosition": 0.05}, "y": {"datum": 1097, "type": "quantitative"}, "text": {"field": "p"}}}
 ]},
{"width": 694, "height": 245,
 "layer": [
  {"data": {"name": "d"}, "transform": [{"filter": "datum.p === 'Above Normal'"}], "mark": {"type": "line", "strokeWidth": 3.5},
   "encoding": {
    "x": {"field": "m", "type": "ordinal", "sort": null, "scale": {"type": "band", "domain": ["Oct","Nov","Dec","Jan","Feb","Mar","Apr","May","Jun","Jul","Aug","Sep"], "paddingInner": 0, "paddingOuter": 0}, "axis": {"title": null, "tickBand": "extent", "tickSize": 8, "labelAngle": 0, "labelPadding": 10, "grid": true}},
    "y": {"field": "v", "type": "quantitative", "scale": {"domain": [0, 1250], "nice": false}, "axis": {"title": ["Mean Monthly CVP", "Deliveries (TAF)"], "values": [0,250,500,750,1000,1250], "format": ",.0f", "tickSize": 0, "labelPadding": 22, "titleFontSize": 20, "titleFontWeight": "bold", "titleColor": "#595959", "titlePadding": 10, "titleLineHeight": 29, "grid": true}},
    "color": {"field": "s", "type": "nominal", "scale": {"domain": ["Baseline","Scenario 1","Scenario 2","Scenario 3","Scenario 4","Scenario 5","Scenario 6","Scenario 7"], "range": ["#000000","#9BBB59","#4BACC6","#F79646","#C0504D","#8064A2","#FF00FF","#808080"]}},
    "strokeDash": {"field": "s", "type": "nominal", "scale": {"domain": ["Baseline","Scenario 1","Scenario 2","Scenario 3","Scenario 4","Scenario 5","Scenario 6","Scenario 7"], "range": [[1,0],[2,4],[8,5],[12,5],[16,8],[2,4],[8,5],[14,6]]}}
   }},
  {"data": {"name": "d"}, "transform": [{"filter": "datum.p === 'Above Normal' && datum.s === 'Scenario 4'"}], "mark": {"type": "point", "shape": "M-1,-1L1,1M-1,1L1,-1", "filled": false, "size": 40, "strokeWidth": 1.5, "color": "#C0504D", "opacity": 1},
   "encoding": {"x": {"field": "m", "type": "ordinal", "sort": null}, "y": {"field": "v", "type": "quantitative"}}},
  {"data": {"name": "d"}, "transform": [{"filter": "datum.p === 'Above Normal' && datum.s === 'Scenario 7'"}], "mark": {"type": "point", "shape": "square", "filled": false, "size": 50, "strokeWidth": 1.5, "color": "#8a6f9c", "opacity": 1},
   "encoding": {"x": {"field": "m", "type": "ordinal", "sort": null}, "y": {"field": "v", "type": "quantitative"}}},
  {"data": {"name": "labels"}, "transform": [{"filter": "datum.p === 'Above Normal'"}], "mark": {"type": "point", "shape": "M-1,-0.246H1V0.246H-1Z", "size": 34969, "filled": true, "fill": "white", "stroke": "black", "strokeWidth": 1, "opacity": 1},
   "encoding": {"x": {"datum": "Dec", "type": "ordinal", "bandPosition": 0.05}, "y": {"datum": 1097, "type": "quantitative"}}},
  {"data": {"name": "labels"}, "transform": [{"filter": "datum.p === 'Above Normal'"}], "mark": {"type": "text", "fontSize": 20, "font": "Lato", "color": "black"},
   "encoding": {"x": {"datum": "Dec", "type": "ordinal", "bandPosition": 0.05}, "y": {"datum": 1097, "type": "quantitative"}, "text": {"field": "p"}}}
 ]},
{"width": 694, "height": 245,
 "layer": [
  {"data": {"name": "d"}, "transform": [{"filter": "datum.p === 'Below Normal'"}], "mark": {"type": "line", "strokeWidth": 3.5},
   "encoding": {
    "x": {"field": "m", "type": "ordinal", "sort": null, "scale": {"type": "band", "domain": ["Oct","Nov","Dec","Jan","Feb","Mar","Apr","May","Jun","Jul","Aug","Sep"], "paddingInner": 0, "paddingOuter": 0}, "axis": {"title": null, "tickBand": "extent", "tickSize": 8, "labelAngle": 0, "labelPadding": 10, "grid": true}},
    "y": {"field": "v", "type": "quantitative", "scale": {"domain": [0, 1250], "nice": false}, "axis": {"title": ["Mean Monthly CVP", "Deliveries (TAF)"], "values": [0,250,500,750,1000,1250], "format": ",.0f", "tickSize": 0, "labelPadding": 22, "titleFontSize": 20, "titleFontWeight": "bold", "titleColor": "#595959", "titlePadding": 10, "titleLineHeight": 29, "grid": true}},
    "color": {"field": "s", "type": "nominal", "scale": {"domain": ["Baseline","Scenario 1","Scenario 2","Scenario 3","Scenario 4","Scenario 5","Scenario 6","Scenario 7"], "range": ["#000000","#9BBB59","#4BACC6","#F79646","#C0504D","#8064A2","#FF00FF","#808080"]}},
    "strokeDash": {"field": "s", "type": "nominal", "scale": {"domain": ["Baseline","Scenario 1","Scenario 2","Scenario 3","Scenario 4","Scenario 5","Scenario 6","Scenario 7"], "range": [[1,0],[2,4],[8,5],[12,5],[16,8],[2,4],[8,5],[14,6]]}}
   }},
  {"data": {"name": "d"}, "transform": [{"filter": "datum.p === 'Below Normal' && datum.s === 'Scenario 4'"}], "mark": {"type": "point", "shape": "M-1,-1L1,1M-1,1L1,-1", "filled": false, "size": 40, "strokeWidth": 1.5, "color": "#C0504D", "opacity": 1},
   "encoding": {"x": {"field": "m", "type": "ordinal", "sort": null}, "y": {"field": "v", "type": "quantitative"}}},
  {"data": {"name": "d"}, "transform": [{"filter": "datum.p === 'Below Normal' && datum.s === 'Scenario 7'"}], "mark": {"type": "point", "shape": "square", "filled": false, "size": 50, "strokeWidth": 1.5, "color": "#8a6f9c", "opacity": 1},
   "encoding": {"x": {"field": "m", "type": "ordinal", "sort": null}, "y": {"field": "v", "type": "quantitative"}}},
  {"data": {"name": "labels"}, "transform": [{"filter": "datum.p === 'Below Normal'"}], "mark": {"type": "point", "shape": "M-1,-0.246H1V0.246H-1Z", "size": 34969, "filled": true, "fill": "white", "stroke": "black", "strokeWidth": 1, "opacity": 1},
   "encoding": {"x": {"datum": "Dec", "type": "ordinal", "bandPosition": 0.05}, "y": {"datum": 1097, "type": "quantitative"}}},
  {"data": {"name": "labels"}, "transform": [{"filter": "datum.p === 'Below Normal'"}], "mark": {"type": "text", "fontSize": 20, "font": "Lato", "color": "black"},
   "encoding": {"x": {"datum": "Dec", "type": "ordinal", "bandPosition": 0.05}, "y": {"datum": 1097, "type": "quantitative"}, "text": {"field": "p"}}}
 ]},
{"width": 694, "height": 245,
 "layer": [
  {"data": {"name": "d"}, "transform": [{"filter": "datum.p === 'Dry'"}], "mark": {"type": "line", "strokeWidth": 3.5},
   "encoding": {
    "x": {"field": "m", "type": "ordinal", "sort": null, "scale": {"type": "band", "domain": ["Oct","Nov","Dec","Jan","Feb","Mar","Apr","May","Jun","Jul","Aug","Sep"], "paddingInner": 0, "paddingOuter": 0}, "axis": {"title": null, "tickBand": "extent", "tickSize": 8, "labelAngle": 0, "labelPadding": 10, "grid": true}},
    "y": {"field": "v", "type": "quantitative", "scale": {"domain": [0, 1250], "nice": false}, "axis": {"title": ["Mean Monthly CVP", "Deliveries (TAF)"], "values": [0,250,500,750,1000,1250], "format": ",.0f", "tickSize": 0, "labelPadding": 22, "titleFontSize": 20, "titleFontWeight": "bold", "titleColor": "#595959", "titlePadding": 10, "titleLineHeight": 29, "grid": true}},
    "color": {"field": "s", "type": "nominal", "scale": {"domain": ["Baseline","Scenario 1","Scenario 2","Scenario 3","Scenario 4","Scenario 5","Scenario 6","Scenario 7"], "range": ["#000000","#9BBB59","#4BACC6","#F79646","#C0504D","#8064A2","#FF00FF","#808080"]}},
    "strokeDash": {"field": "s", "type": "nominal", "scale": {"domain": ["Baseline","Scenario 1","Scenario 2","Scenario 3","Scenario 4","Scenario 5","Scenario 6","Scenario 7"], "range": [[1,0],[2,4],[8,5],[12,5],[16,8],[2,4],[8,5],[14,6]]}}
   }},
  {"data": {"name": "d"}, "transform": [{"filter": "datum.p === 'Dry' && datum.s === 'Scenario 4'"}], "mark": {"type": "point", "shape": "M-1,-1L1,1M-1,1L1,-1", "filled": false, "size": 40, "strokeWidth": 1.5, "color": "#C0504D", "opacity": 1},
   "encoding": {"x": {"field": "m", "type": "ordinal", "sort": null}, "y": {"field": "v", "type": "quantitative"}}},
  {"data": {"name": "d"}, "transform": [{"filter": "datum.p === 'Dry' && datum.s === 'Scenario 7'"}], "mark": {"type": "point", "shape": "square", "filled": false, "size": 50, "strokeWidth": 1.5, "color": "#8a6f9c", "opacity": 1},
   "encoding": {"x": {"field": "m", "type": "ordinal", "sort": null}, "y": {"field": "v", "type": "quantitative"}}},
  {"data": {"name": "labels"}, "transform": [{"filter": "datum.p === 'Dry'"}], "mark": {"type": "point", "shape": "M-1,-0.246H1V0.246H-1Z", "size": 34969, "filled": true, "fill": "white", "stroke": "black", "strokeWidth": 1, "opacity": 1},
   "encoding": {"x": {"datum": "Dec", "type": "ordinal", "bandPosition": 0.05}, "y": {"datum": 1097, "type": "quantitative"}}},
  {"data": {"name": "labels"}, "transform": [{"filter": "datum.p === 'Dry'"}], "mark": {"type": "text", "fontSize": 20, "font": "Lato", "color": "black"},
   "encoding": {"x": {"datum": "Dec", "type": "ordinal", "bandPosition": 0.05}, "y": {"datum": 1097, "type": "quantitative"}, "text": {"field": "p"}}}
 ]},
{"width": 694, "height": 245,
 "layer": [
  {"data": {"name": "d"}, "transform": [{"filter": "datum.p === 'Critical'"}], "mark": {"type": "line", "strokeWidth": 3.5},
   "encoding": {
    "x": {"field": "m", "type": "ordinal", "sort": null, "scale": {"type": "band", "domain": ["Oct","Nov","Dec","Jan","Feb","Mar","Apr","May","Jun","Jul","Aug","Sep"], "paddingInner": 0, "paddingOuter": 0}, "axis": {"title": null, "tickBand": "extent", "tickSize": 8, "labelAngle": 0, "labelPadding": 10, "grid": true}},
    "y": {"field": "v", "type": "quantitative", "scale": {"domain": [0, 1250], "nice": false}, "axis": {"title": ["Mean Monthly CVP", "Deliveries (TAF)"], "values": [0,250,500,750,1000,1250], "format": ",.0f", "tickSize": 0, "labelPadding": 22, "titleFontSize": 20, "titleFontWeight": "bold", "titleColor": "#595959", "titlePadding": 10, "titleLineHeight": 29, "grid": true}},
    "color": {"field": "s", "type": "nominal", "scale": {"domain": ["Baseline","Scenario 1","Scenario 2","Scenario 3","Scenario 4","Scenario 5","Scenario 6","Scenario 7"], "range": ["#000000","#9BBB59","#4BACC6","#F79646","#C0504D","#8064A2","#FF00FF","#808080"]}},
    "strokeDash": {"field": "s", "type": "nominal", "scale": {"domain": ["Baseline","Scenario 1","Scenario 2","Scenario 3","Scenario 4","Scenario 5","Scenario 6","Scenario 7"], "range": [[1,0],[2,4],[8,5],[12,5],[16,8],[2,4],[8,5],[14,6]]}}
   }},
  {"data": {"name": "d"}, "transform": [{"filter": "datum.p === 'Critical' && datum.s === 'Scenario 4'"}], "mark": {"type": "point", "shape": "M-1,-1L1,1M-1,1L1,-1", "filled": false, "size": 40, "strokeWidth": 1.5, "color": "#C0504D", "opacity": 1},
   "encoding": {"x": {"field": "m", "type": "ordinal", "sort": null}, "y": {"field": "v", "type": "quantitative"}}},
  {"data": {"name": "d"}, "transform": [{"filter": "datum.p === 'Critical' && datum.s === 'Scenario 7'"}], "mark": {"type": "point", "shape": "square", "filled": false, "size": 50, "strokeWidth": 1.5, "color": "#8a6f9c", "opacity": 1},
   "encoding": {"x": {"field": "m", "type": "ordinal", "sort": null}, "y": {"field": "v", "type": "quantitative"}}},
  {"data": {"name": "labels"}, "transform": [{"filter": "datum.p === 'Critical'"}], "mark": {"type": "point", "shape": "M-1,-0.246H1V0.246H-1Z", "size": 34969, "filled": true, "fill": "white", "stroke": "black", "strokeWidth": 1, "opacity": 1},
   "encoding": {"x": {"datum": "Dec", "type": "ordinal", "bandPosition": 0.05}, "y": {"datum": 1097, "type": "quantitative"}}},
  {"data": {"name": "labels"}, "transform": [{"filter": "datum.p === 'Critical'"}], "mark": {"type": "text", "fontSize": 20, "font": "Lato", "color": "black"},
   "encoding": {"x": {"datum": "Dec", "type": "ordinal", "bandPosition": 0.05}, "y": {"datum": 1097, "type": "quantitative"}, "text": {"field": "p"}}}
 ]}
],
"resolve": {"scale": {"color": "independent", "strokeDash": "independent"}, "legend": {"color": "independent", "strokeDash": "independent"}}
}
